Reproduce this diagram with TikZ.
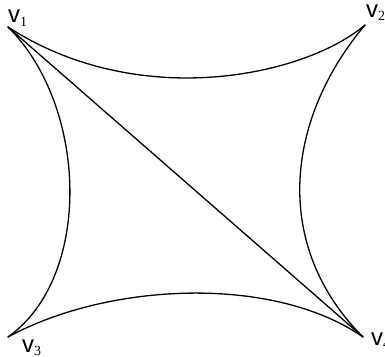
\documentclass[tikz,border=0pt]{standalone}
\usepackage{fontspec}
\setmainfont{Liberation Sans}
\newfontfamily\subfont{Liberation Serif}
\usepackage{tikz}
\usetikzlibrary{positioning,calc}
\newcommand{\vx}[1]{v{\fontsize{14}{14}\subfont\raisebox{-3.5pt}{#1}}}

\begin{document}
\begin{tikzpicture}[
  x=1pt, y=-1pt,
  edge/.style={line width=1.3pt, line cap=round, line join=round},
  vlabel/.style={inner sep=0pt, anchor=base west, font=\fontsize{24}{24}\selectfont}
]
  \useasboundingbox (0,0) rectangle (385,356);
  \coordinate (v1) at (8,27);
  \coordinate (v2) at (365,25);
  \coordinate (v3) at (8,337);
  \coordinate (v4) at (363,337);
  \node[vlabel] (l1) at (8,22.5) {\vx{1}};
  \node[vlabel] (l2) at (366,17) {\vx{2}};
  \node[vlabel] (l3) at (22,352) {\vx{3}};
  \node[vlabel] (l4) at (371,345) {\vx{4}};
  \draw[edge] (v1) .. controls (139,112) and (305,76) .. (v2);
  \draw[edge] (v1) .. controls (88,106) and (93,277) .. (v3);
  \draw[edge] (v2) .. controls (285,120) and (272,246) .. (v4);
  \draw[edge] (v3) .. controls (109,282) and (274,275) .. (v4);
  \draw[edge] (v1) -- (v4);
\end{tikzpicture}
\end{document}
